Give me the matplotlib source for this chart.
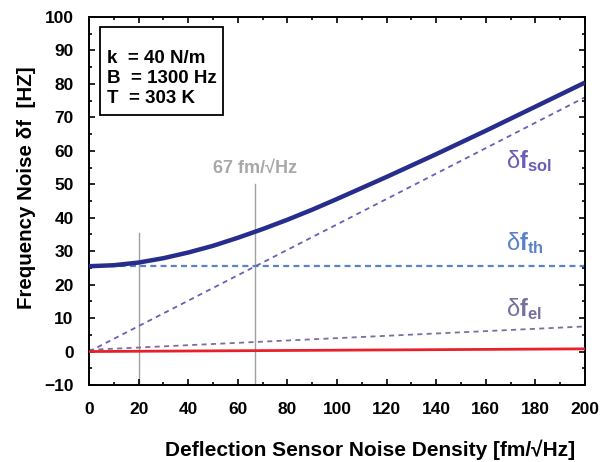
import matplotlib
matplotlib.use("Agg")
import matplotlib.pyplot as plt
from matplotlib.ticker import MultipleLocator
from matplotlib.patches import Rectangle

plt.rcParams['font.family'] = ['Liberation Sans', 'DejaVu Sans']
plt.rcParams['mathtext.fontset'] = 'custom'
plt.rcParams['mathtext.rm'] = 'Liberation Sans'
plt.rcParams['mathtext.it'] = 'Liberation Sans:italic'
plt.rcParams['mathtext.bf'] = 'Liberation Sans:bold'

# data
x_total = [0, 10, 20, 30, 40, 50, 60, 70, 80, 90, 100,
           110, 120, 130, 140, 150, 160, 170, 180, 190, 200]
y_total = [25.5, 25.8, 26.6, 27.9, 29.6, 31.6, 34.0, 36.6, 39.4, 42.4, 45.6,
           48.9, 52.2, 55.6, 59.0, 62.5, 66.0, 69.6, 73.2, 76.8, 80.4]
x_lin = [0, 200]
y_sol = [0.0, 76.0]
y_th = [25.5, 25.5]
y_el = [0.5, 7.5]
y_red = [0.0, 0.8]
vline_x = [20, 67]
vline_top = [35.3, 50.0]
params = ["k  = 40 N/m", "B  = 1300 Hz", "T  = 303 K"]

fig = plt.figure(figsize=(6.11, 4.62), dpi=100)
ax = fig.add_axes([0.1457, 0.1667, 0.8117, 0.7965])

for vx, vt in zip(vline_x, vline_top):
    ax.plot([vx, vx], [-10, vt], color='#a0a0a0', lw=1.0, zorder=1)

ax.plot(x_lin, y_th, color='#5b82c8', lw=1.6, ls=(0, (2.7, 1.9)), zorder=2)
ax.plot(x_lin, y_sol, color='#6a5fb5', lw=1.3, ls=(0, (2.8, 2.4)), zorder=2)
ax.plot(x_lin, y_el, color='#77709f', lw=1.3, ls=(0, (2.8, 2.4)), zorder=2)
ax.plot(x_lin, y_red, color='#e8202a', lw=2.0, zorder=3)
ax.plot(x_total, y_total, color='#262d8c', lw=3.2, zorder=4,
        solid_joinstyle='round', solid_capstyle='butt')

ax.set_xlim(0, 200)
ax.set_ylim(-10, 100)
ax.xaxis.set_major_locator(MultipleLocator(20))
ax.xaxis.set_minor_locator(MultipleLocator(10))
ax.yaxis.set_major_locator(MultipleLocator(10))
ax.yaxis.set_minor_locator(MultipleLocator(5))
ax.tick_params(which='both', direction='in', top=True, right=True, width=1.2)
ax.tick_params(which='major', length=4.5, labelsize=12.5)
ax.tick_params(axis='y', which='major', pad=11)
ax.tick_params(axis='x', which='major', pad=12)
ax.tick_params(which='minor', length=2.5)
for lab in ax.get_xticklabels() + ax.get_yticklabels():
    lab.set_fontweight('bold')
for sp in ax.spines.values():
    sp.set_linewidth(1.4)

ax.set_xlabel("Deflection Sensor Noise Density [fm/\u221aHz]", fontsize=15,
              fontweight='bold')
ax.xaxis.set_label_coords(0.567, -0.148)
ax.set_ylabel("Frequency Noise \u03b4f  [HZ]", fontsize=14.8, fontweight='bold')
ax.yaxis.set_label_coords(-0.107, 0.535)

ax.text(67, 52.3, "67 fm/\u221aHz", color='#a8a8a8', fontsize=13, fontweight='bold',
        ha='center', va='bottom')

ax.text(168, 57, r'$\mathrm{\delta}\mathbf{f}_{\mathbf{sol}}$', color='#6a5fb5', fontsize=17,
        ha='left', va='center')
ax.text(168, 32.5, r'$\mathrm{\delta}\mathbf{f}_{\mathbf{th}}$', color='#5b82c8', fontsize=17,
        ha='left', va='center')
ax.text(168, 12.8, r'$\mathrm{\delta}\mathbf{f}_{\mathbf{el}}$', color='#77709f', fontsize=17,
        ha='left', va='center')

ax.add_patch(Rectangle((4.4, 70.7), 49.6, 26.3, facecolor='white', edgecolor='black',
                       lw=1.3, zorder=5))
ax.text(7.3, 90.0, "\n".join(params), fontsize=13.5, fontweight='bold', ha='left', va='top',
        linespacing=1.2, zorder=6)

fig.savefig("out.png", dpi=100)
